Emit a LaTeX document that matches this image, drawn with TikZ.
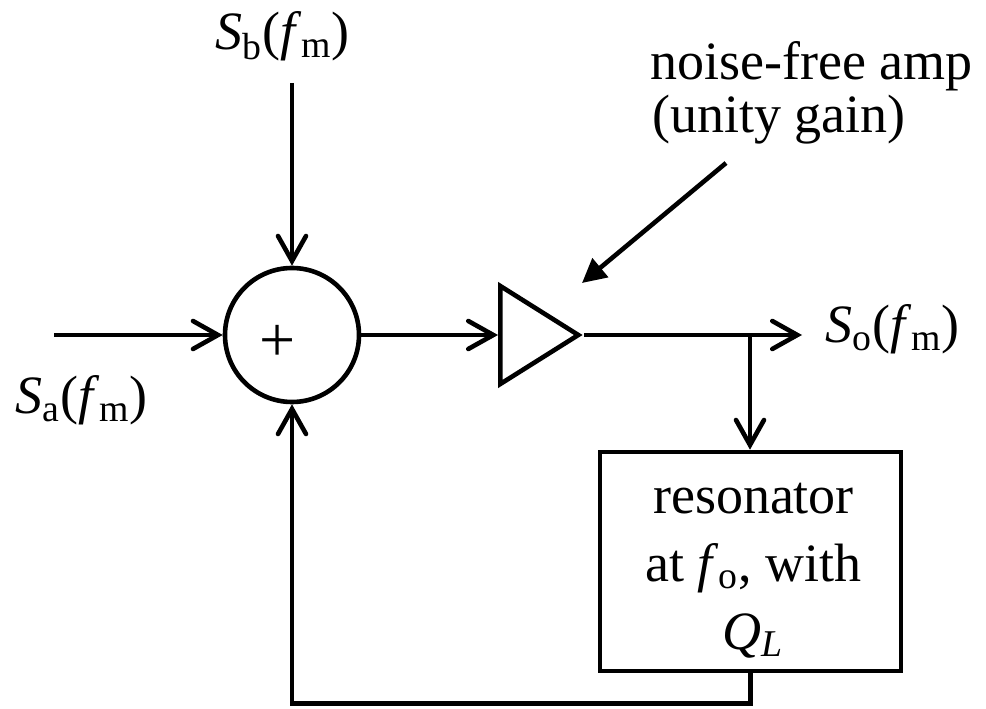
\documentclass[tikz,border=0pt]{standalone}
\usepackage{fontspec}
\setmainfont{Liberation Serif}
\usetikzlibrary{arrows.meta, shapes.geometric, calc}

\newcommand{\sigfm}[1]{\textit{S}\textsubscript{#1}(\textit{f}\textsubscript{m})}

\begin{document}
\begin{tikzpicture}[x=0.5pt, y=0.5pt, line width=2.3pt,
    font=\fontsize{27}{34}\selectfont,
    sig/.style={-{Straight Barb[length=12.5pt,width=14pt,line cap=round]}},
    note/.style={-{Triangle[length=12pt,width=12pt]}},
    lbl/.style={inner sep=0pt, anchor=base west}]
    \useasboundingbox (0,0) rectangle (986,708);

    % --- 1. 加法器, 放大器, 諧振器 ---
    \node[draw, circle, minimum size=67pt, inner sep=0pt] (sum) at (292,373) {};
    \node[inner sep=0pt, font=\fontsize{32}{32}\selectfont] (plus)
          at ($(sum.center)+(-14,-8)$) {+};
    \node[draw, isosceles triangle, isosceles triangle stretches,
          minimum height=39pt, minimum width=49pt, inner sep=0pt,
          anchor=lower side] (amp) at (498,373) {};
    \node[draw, rectangle, minimum width=150.5pt, minimum height=109.5pt]
          (res) at (750.5,146.5) {};
    \node[align=center, inner sep=0pt] (restxt) at ($(res.center)+(3,-9)$)
          {resonator\\at \textit{f}\textsubscript{o}, with\\\textit{Q\textsubscript{L}}};

    % --- 2. 輸入與輸出端點 ---
    \coordinate (ain) at (54,373);
    \coordinate (bin) at (292,625);
    \coordinate (tap) at (750,373);
    \coordinate (out) at (802,373);
    \coordinate (nstart) at (726,545);
    \coordinate (ntip) at (582,425);

    % --- 3. 訊號連線 ---
    \draw[sig] (ain) -- (sum.west);
    \draw[sig] (bin) -- (sum.north);
    \draw[sig] (sum.east) -- (amp.lower side);
    \draw[sig] (amp.apex) -- (out);
    \draw[sig] (tap) -- (tap |- res.north);
    \draw[sig] (res.south) -- ++(0,-30) -| (sum.south);
    \draw[note] (nstart) -- (ntip);

    % --- 4. 標籤 ---
    \node[lbl] (sa) at (13,294) {\sigfm{a}};
    \node[lbl] (sb) at (213,658) {\sigfm{b}};
    \node[lbl] (so) at (823,365) {\sigfm{o}};
    \node[lbl] (amplbl) at (648,628) {noise-free amp};
    \node[lbl] (gainlbl) at (650,575) {(unity gain)};
\end{tikzpicture}
\end{document}
